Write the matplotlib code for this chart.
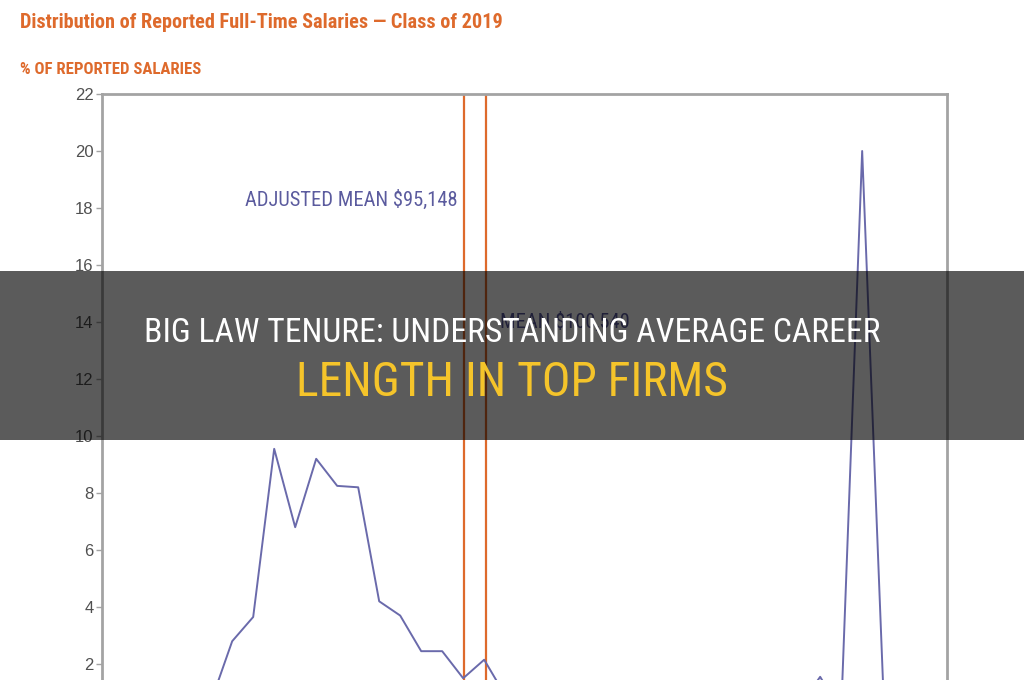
import matplotlib
matplotlib.use("Agg")
import matplotlib.pyplot as plt
from matplotlib import font_manager
from matplotlib.patches import Rectangle

# salary bins ($k) and share of reported salaries (%)
SALARY_K = [30, 35, 40, 45, 50, 55, 60, 65, 70, 75, 80, 85, 90, 95, 100,
            105, 110, 115, 120, 125, 130, 135, 140, 145, 150, 155, 160,
            165, 170, 175, 180, 185, 190, 195, 200]
PCT = [0.2, 0.7, 2.8, 3.65, 9.55, 6.8, 9.2, 8.25, 8.2, 4.2, 3.7, 2.45, 2.45,
       1.5, 2.15, 0.9, 0.8, 0.9, 0.6, 0.7, 0.5, 0.8, 0.4, 0.5, 0.9, 0.3,
       1.0, 0.4, 0.3, 0.5, 1.55, 0.3, 20.0, 1.2, 0.4]
ADJ_MEAN_K = 95.148
MEAN_K = 100.54
Y_TICKS = [2, 4, 6, 8, 10, 12, 14, 16, 18, 20, 22]

TITLE = "Distribution of Reported Full-Time Salaries \u2014 Class of 2019"
SUBTITLE = "% OF REPORTED SALARIES"
ADJ_LABEL = "ADJUSTED MEAN $95,148"
MEAN_LABEL = "MEAN $100,540"
BAND_LINE1 = "BIG LAW TENURE: UNDERSTANDING AVERAGE CAREER"
BAND_LINE2 = "LENGTH IN TOP FIRMS"

ORANGE = "#de6a2c"
LINE_BLUE = "#6a6aab"
LABEL_BLUE = "#5b5b9e"
FRAME = "#a3a3a3"

installed = {f.name for f in font_manager.fontManager.ttflist}


def pick(*names):
    for n in names:
        if n in installed:
            return n
    return "DejaVu Sans"


NARROW = pick("Liberation Sans Narrow", "Roboto Condensed", "Liberation Sans")
ARIAL = pick("Liberation Sans", "DejaVu Sans")

fig = plt.figure(figsize=(10.24, 6.8), dpi=100)
W, H = 1024, 680

# axes: frame from x=102 to 947 px, top at y=94, value 0 below the picture
ax = fig.add_axes([102 / W, 1 - 721 / H, (947 - 102) / W, (721 - 94) / H])
ax.set_xlim(9, 210.2)
ax.set_ylim(0, 22)

ax.plot(SALARY_K, PCT, color=LINE_BLUE, lw=1.4, zorder=3)
ax.axvline(ADJ_MEAN_K, color=ORANGE, lw=1.6, zorder=2)
ax.axvline(MEAN_K, color=ORANGE, lw=1.6, zorder=2)

for s in ["left", "top", "right"]:
    ax.spines[s].set_color(FRAME)
    ax.spines[s].set_linewidth(2)
ax.spines["bottom"].set_visible(False)
ax.set_xticks([])
ax.set_yticks(Y_TICKS)
ax.tick_params(axis="y", length=4, width=1, color=FRAME, labelcolor="#505050",
               labelsize=12, pad=2)
for lab in ax.get_yticklabels():
    lab.set_fontfamily(ARIAL)

a1 = ax.text(93.6, 18.3, ADJ_LABEL, color=LABEL_BLUE, ha="right", va="center",
             fontsize=14, family=NARROW)
a2 = ax.text(103.8, 14.0, MEAN_LABEL, color=LABEL_BLUE, ha="left", va="center",
             fontsize=14, family=NARROW)

t1 = fig.text(20 / W, 1 - 23 / H, TITLE, color=ORANGE, fontweight="bold",
              fontsize=15, family=NARROW, ha="left", va="center")
t2 = fig.text(20 / W, 1 - 70 / H, SUBTITLE, color=ORANGE, fontweight="bold",
              fontsize=12, family=NARROW, ha="left", va="center")

# dark banner across the middle
fig.patches.append(Rectangle((0, 1 - 440 / H), 1, (440 - 271) / H,
                             transform=fig.transFigure, facecolor="black",
                             alpha=0.645, edgecolor="none", zorder=10))
b1 = fig.text(0.5, 1 - 333 / H, BAND_LINE1, color="white", fontsize=24,
              family=NARROW, ha="center", va="center", zorder=11)
b2 = fig.text(0.5, 1 - 383 / H, BAND_LINE2, color="#f5c42a", fontsize=24,
              family=NARROW, ha="center", va="center", zorder=11)


def fit_width(txt, target_px):
    r = fig.canvas.get_renderer()
    w = txt.get_window_extent(renderer=r).width
    txt.set_fontsize(txt.get_fontsize() * target_px / w)


fit_width(t1, 482)
fit_width(t2, 182)
fit_width(b1, 736)
fit_width(b2, 432)
fit_width(a1, 213)
a2.set_fontsize(a1.get_fontsize())

fig.savefig("out.png", dpi=100)
